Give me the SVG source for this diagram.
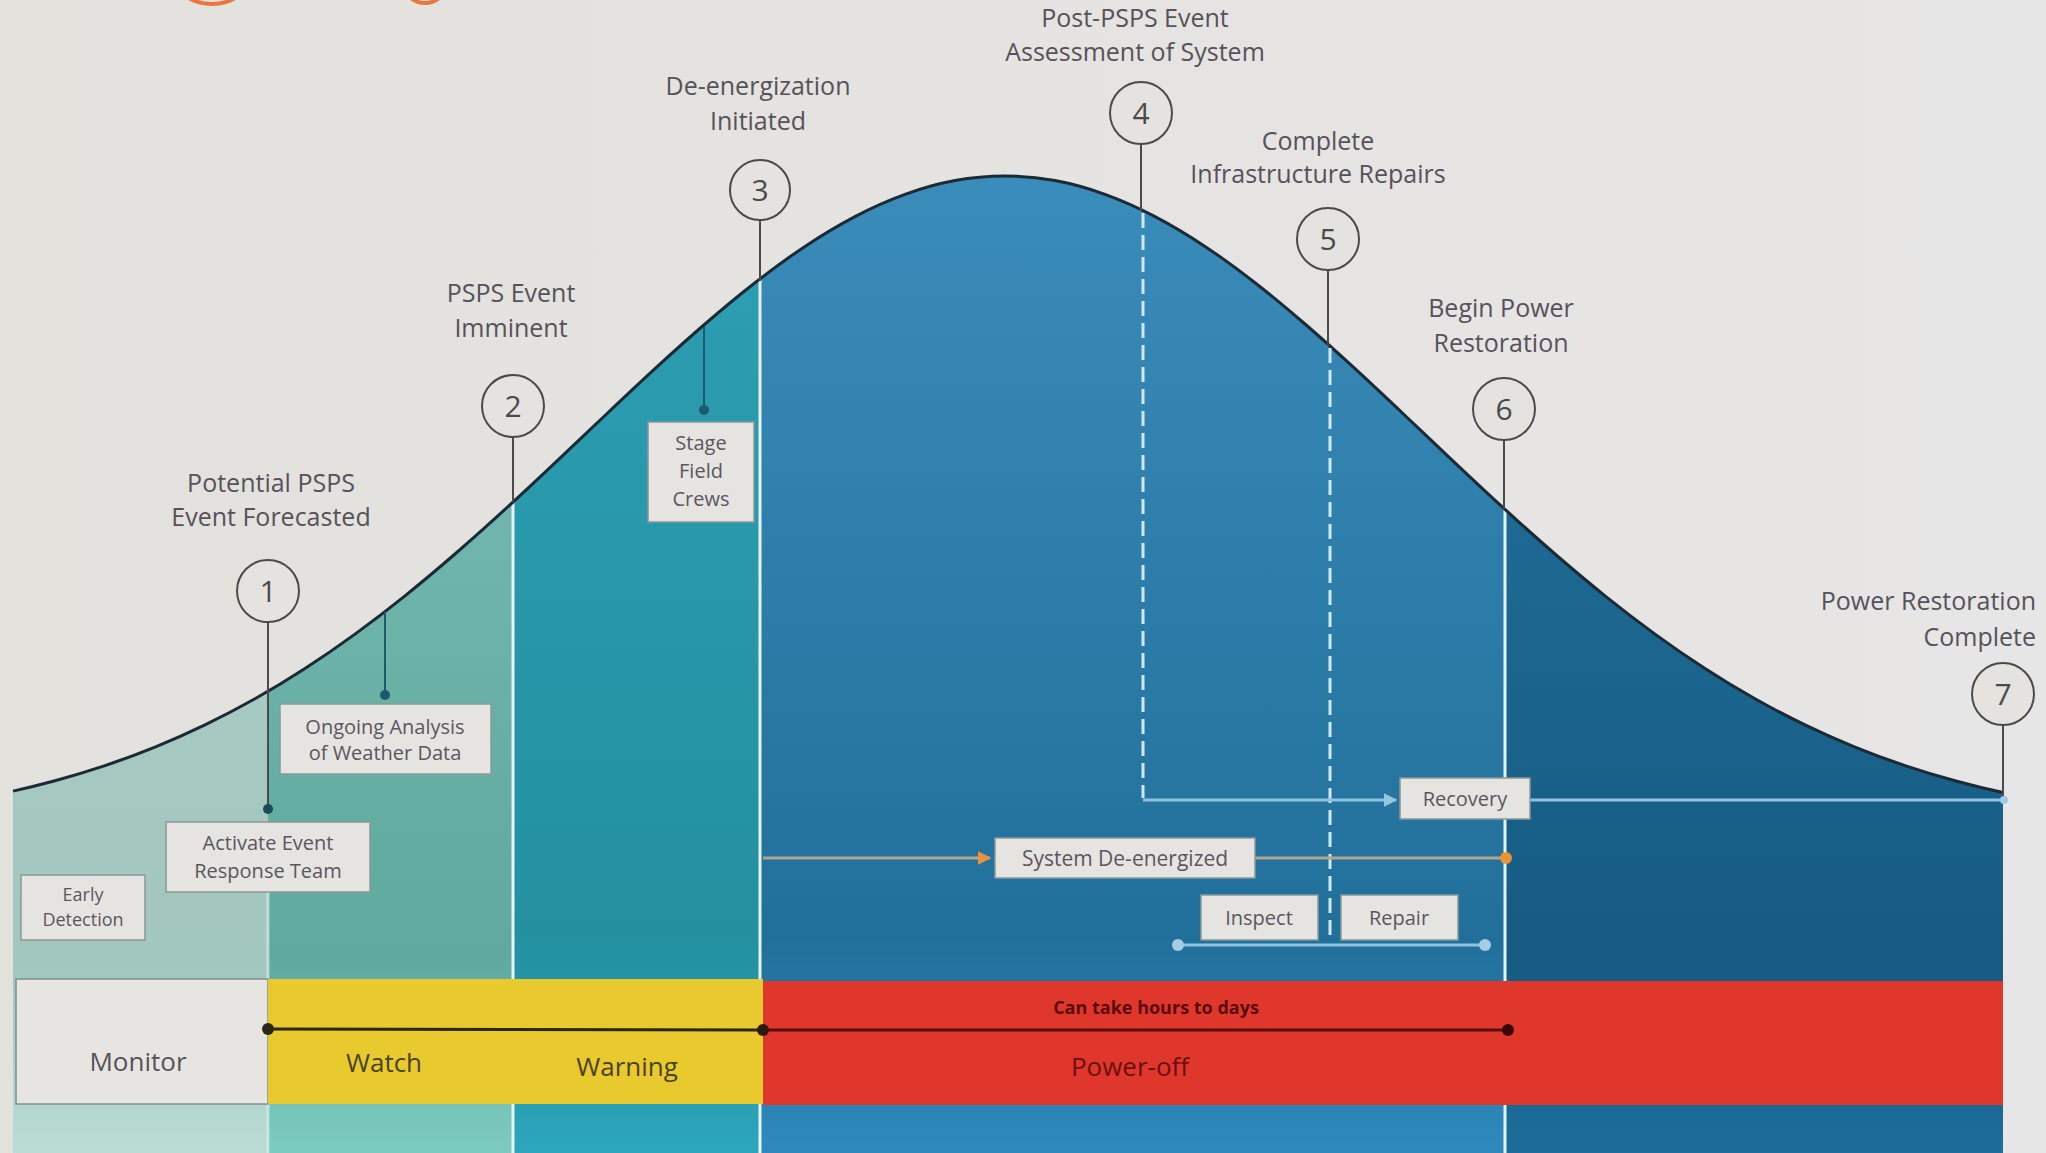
<svg xmlns="http://www.w3.org/2000/svg" width="2046" height="1153" viewBox="0 0 2046 1153">
<defs>
<linearGradient id="bg" x1="0" y1="0" x2="1" y2="0">
<stop offset="0" stop-color="#e2e1dc"/><stop offset="1" stop-color="#e7e6e6"/>
</linearGradient>
<linearGradient id="g1" gradientUnits="userSpaceOnUse" x1="0" y1="690" x2="0" y2="1153">
<stop offset="0" stop-color="#a6c9c1"/><stop offset="0.6" stop-color="#a2c7bd"/><stop offset="1" stop-color="#b9dcd4"/>
</linearGradient>
<linearGradient id="g2" gradientUnits="userSpaceOnUse" x1="0" y1="500" x2="0" y2="1153">
<stop offset="0" stop-color="#70b6ac"/><stop offset="0.7" stop-color="#5fa99f"/><stop offset="1" stop-color="#7ccbc1"/>
</linearGradient>
<linearGradient id="g3" gradientUnits="userSpaceOnUse" x1="0" y1="280" x2="0" y2="1153">
<stop offset="0" stop-color="#2c9db2"/><stop offset="0.75" stop-color="#22909f"/><stop offset="1" stop-color="#2ba6bb"/>
</linearGradient>
<linearGradient id="g4" gradientUnits="userSpaceOnUse" x1="0" y1="176" x2="0" y2="1153">
<stop offset="0" stop-color="#3a8cba"/><stop offset="0.78" stop-color="#21709b"/><stop offset="1" stop-color="#2e8abd"/>
</linearGradient>
<linearGradient id="g5" gradientUnits="userSpaceOnUse" x1="0" y1="500" x2="0" y2="1153">
<stop offset="0" stop-color="#1e6a94"/><stop offset="0.7" stop-color="#165b82"/><stop offset="1" stop-color="#1c6d9b"/>
</linearGradient>
<path id="bell" d="M13,791.1 C27,787.95 41,784.5 55,780.7 C71.67,776.17 88.33,771.18 105,765.6 C121.67,760.02 138.33,753.86 155,747.1 C171.67,740.34 188.33,732.95 205,724.9 C221.67,716.85 238.33,708.2 255,698.8 C271.67,689.4 288.33,679.29 305,668.5 C321.67,657.71 338.33,646.24 355,634.1 C371.67,621.96 388.33,609.18 405,595.8 C421.67,582.42 438.33,568.45 455,554 C471.67,539.55 488.33,524.65 505,509.4 C521.67,494.15 538.33,478.51 555,462.8 C571.67,447.09 588.33,431.26 605,415.5 C621.67,399.74 638.33,384.04 655,368.7 C671.67,353.36 688.33,338.42 705,324 C721.67,309.58 738.33,295.7 755,282.7 C771.67,269.7 788.33,257.49 805,246.4 C821.67,235.31 838.33,225.34 855,216.6 C871.67,207.86 888.33,200.44 905,194.4 C921.67,188.36 938.33,183.68 955,180.6 C971.67,177.52 988.33,176 1005,176 C1021.67,176 1038.33,177.52 1055,180.6 C1071.67,183.68 1088.33,188.36 1105,194.4 C1121.67,200.44 1138.33,207.86 1155,216.6 C1171.67,225.34 1188.33,235.31 1205,246.4 C1221.67,257.49 1238.33,269.7 1255,282.7 C1271.67,295.7 1288.33,309.58 1305,324 C1321.67,338.42 1338.33,353.36 1355,368.7 C1371.67,384.04 1388.33,399.74 1405,415.5 C1421.67,431.26 1438.33,447.09 1455,462.8 C1471.67,478.51 1488.33,494.15 1505,509.4 C1521.67,524.65 1538.33,539.55 1555,554 C1571.67,568.45 1588.33,582.42 1605,595.8 C1621.67,609.18 1638.33,621.96 1655,634.1 C1671.67,646.24 1688.33,657.71 1705,668.5 C1721.67,679.29 1738.33,689.4 1755,698.8 C1771.67,708.2 1788.33,716.85 1805,724.9 C1821.67,732.95 1838.33,740.34 1855,747.1 C1871.67,753.86 1888.33,760.02 1905,765.6 C1921.67,771.18 1938.33,776.17 1955,780.7 C1971,785.05 1987,789 2003,792.5"/>
<clipPath id="under">
<path d="M13,791.1 C27,787.95 41,784.5 55,780.7 C71.67,776.17 88.33,771.18 105,765.6 C121.67,760.02 138.33,753.86 155,747.1 C171.67,740.34 188.33,732.95 205,724.9 C221.67,716.85 238.33,708.2 255,698.8 C271.67,689.4 288.33,679.29 305,668.5 C321.67,657.71 338.33,646.24 355,634.1 C371.67,621.96 388.33,609.18 405,595.8 C421.67,582.42 438.33,568.45 455,554 C471.67,539.55 488.33,524.65 505,509.4 C521.67,494.15 538.33,478.51 555,462.8 C571.67,447.09 588.33,431.26 605,415.5 C621.67,399.74 638.33,384.04 655,368.7 C671.67,353.36 688.33,338.42 705,324 C721.67,309.58 738.33,295.7 755,282.7 C771.67,269.7 788.33,257.49 805,246.4 C821.67,235.31 838.33,225.34 855,216.6 C871.67,207.86 888.33,200.44 905,194.4 C921.67,188.36 938.33,183.68 955,180.6 C971.67,177.52 988.33,176 1005,176 C1021.67,176 1038.33,177.52 1055,180.6 C1071.67,183.68 1088.33,188.36 1105,194.4 C1121.67,200.44 1138.33,207.86 1155,216.6 C1171.67,225.34 1188.33,235.31 1205,246.4 C1221.67,257.49 1238.33,269.7 1255,282.7 C1271.67,295.7 1288.33,309.58 1305,324 C1321.67,338.42 1338.33,353.36 1355,368.7 C1371.67,384.04 1388.33,399.74 1405,415.5 C1421.67,431.26 1438.33,447.09 1455,462.8 C1471.67,478.51 1488.33,494.15 1505,509.4 C1521.67,524.65 1538.33,539.55 1555,554 C1571.67,568.45 1588.33,582.42 1605,595.8 C1621.67,609.18 1638.33,621.96 1655,634.1 C1671.67,646.24 1688.33,657.71 1705,668.5 C1721.67,679.29 1738.33,689.4 1755,698.8 C1771.67,708.2 1788.33,716.85 1805,724.9 C1821.67,732.95 1838.33,740.34 1855,747.1 C1871.67,753.86 1888.33,760.02 1905,765.6 C1921.67,771.18 1938.33,776.17 1955,780.7 C1971,785.05 1987,789 2003,792.5 L2003,1153 L13,1153 Z"/>
</clipPath>
<marker id="arrOr" viewBox="0 0 10 10" refX="9" refY="5" markerWidth="4.5" markerHeight="4.5" markerUnits="strokeWidth" orient="auto">
<path d="M0,0 L10,5 L0,10 z" fill="#ea9238"/>
</marker>
<marker id="arrBl" viewBox="0 0 10 10" refX="9" refY="5" markerWidth="4.5" markerHeight="4.5" markerUnits="strokeWidth" orient="auto">
<path d="M0,0 L10,5 L0,10 z" fill="#93c4e0"/>
</marker>
<style>
.lbl{font-family:"Open Sans","Liberation Sans",sans-serif;font-size:25px;fill:#56525a;text-anchor:middle}
.lblr{font-family:"Open Sans","Liberation Sans",sans-serif;font-size:25px;fill:#56525a;text-anchor:end}
.num{font-family:"Open Sans","Liberation Sans",sans-serif;font-size:30px;fill:#4a4a4a;text-anchor:middle}
.ring{fill:#e4e3df;stroke:#4a4a4a;stroke-width:2}
.stem{stroke:#4a4a4a;stroke-width:2;fill:none}
.box{fill:#e6e4e0;stroke:#8a9898;stroke-width:1.5}
.btx{font-family:"Open Sans","Liberation Sans",sans-serif;font-size:20px;fill:#5a5660;text-anchor:middle}
.sm{font-size:18px}
.phase{font-family:"Open Sans","Liberation Sans",sans-serif;font-size:26px;text-anchor:middle}
.div{stroke:#e4f4f4;stroke-width:3}
.dash{stroke:#cfe8f5;stroke-width:3;stroke-dasharray:15 7;fill:none}
.blue{stroke:#8fc2df;stroke-width:3;fill:none}
.tan{stroke:#b3a48e;stroke-width:3;fill:none}
</style>
</defs>

<rect width="2046" height="1153" fill="url(#bg)"/>
<g id="logo-fragment" fill="none" stroke="#e8773e" stroke-width="4">
<ellipse cx="212" cy="-22" rx="36" ry="26"/>
<ellipse cx="425" cy="-23" rx="24" ry="26"/>
</g>

<g id="regions" clip-path="url(#under)">
<rect x="13" y="150" width="255" height="1003" fill="url(#g1)"/>
<rect x="268" y="150" width="245" height="1003" fill="url(#g2)"/>
<rect x="513" y="150" width="246" height="1003" fill="url(#g3)"/>
<rect x="759" y="150" width="746" height="1003" fill="url(#g4)"/>
<rect x="1505" y="150" width="498" height="1003" fill="url(#g5)"/>
<line class="div" x1="268" y1="892" x2="268" y2="1153" stroke-opacity="0.6"/>
<line class="div" x1="513" y1="502" x2="513" y2="1153"/>
<line class="div" x1="760" y1="280" x2="760" y2="1153"/>
<line class="div" x1="1505" y1="509" x2="1505" y2="1153"/>
</g>

<use id="curve" href="#bell" fill="none" stroke="#1c2a36" stroke-width="3" stroke-linejoin="round"/>

<g id="connectors">
<line class="stem" x1="268" y1="622" x2="268" y2="809"/>
<circle cx="268" cy="809" r="5" fill="#1d4a5a"/>
<line class="stem" x1="513" y1="437" x2="513" y2="502"/>
<line class="stem" x1="760" y1="220" x2="760" y2="281"/>
<line class="stem" x1="1141" y1="144" x2="1141" y2="211"/>
<line class="stem" x1="1328" y1="269" x2="1328" y2="346"/>
<line class="stem" x1="1504" y1="440" x2="1504" y2="509"/>
<line class="stem" x1="2003" y1="725" x2="2003" y2="798"/>
<line x1="385" y1="612" x2="385" y2="695" stroke="#1d5a6a" stroke-width="2"/>
<circle cx="385" cy="695" r="5" fill="#1d5a6a"/>
<line x1="704" y1="327" x2="704" y2="410" stroke="#1d5a6a" stroke-width="2"/>
<circle cx="704" cy="410" r="5" fill="#1d5a6a"/>
<path class="dash" d="M1143,213 L1143,798"/>
<path class="dash" d="M1330,348 L1330,942"/>
<path class="blue" d="M1143,800 L1396,800" marker-end="url(#arrBl)"/>
<path class="blue" d="M1530,800 L2003,800"/>
<circle cx="2004" cy="800" r="4" fill="#9ccbe5"/>
<path class="tan" d="M763,858 L990,858" marker-end="url(#arrOr)"/>
<path class="tan" d="M1255,858 L1505,858"/>
<circle cx="1506" cy="858" r="6" fill="#ea9238"/>
<path class="blue" d="M1177,945 L1485,945" stroke="#a5cce6"/>
<circle cx="1178" cy="945" r="6" fill="#a5cce6"/>
<circle cx="1485" cy="945" r="6" fill="#a5cce6"/>
</g>

<g id="m1"><circle class="ring" cx="268" cy="591" r="31"/><text class="num" x="268" y="602">1</text>
<text class="lbl" x="271" y="492">Potential PSPS</text><text class="lbl" x="271" y="526">Event Forecasted</text></g>
<g id="m2"><circle class="ring" cx="513" cy="406" r="31"/><text class="num" x="513" y="417">2</text>
<text class="lbl" x="511" y="302">PSPS Event</text><text class="lbl" x="511" y="337">Imminent</text></g>
<g id="m3"><circle class="ring" cx="760" cy="190" r="30"/><text class="num" x="760" y="201">3</text>
<text class="lbl" x="758" y="95">De-energization</text><text class="lbl" x="758" y="130">Initiated</text></g>
<g id="m4"><circle class="ring" cx="1141" cy="113" r="31"/><text class="num" x="1141" y="124">4</text>
<text class="lbl" x="1135" y="27">Post-PSPS Event</text><text class="lbl" x="1135" y="61">Assessment of System</text></g>
<g id="m5"><circle class="ring" cx="1328" cy="239" r="31"/><text class="num" x="1328" y="250">5</text>
<text class="lbl" x="1318" y="150">Complete</text><text class="lbl" x="1318" y="183">Infrastructure Repairs</text></g>
<g id="m6"><circle class="ring" cx="1504" cy="409" r="31"/><text class="num" x="1504" y="420">6</text>
<text class="lbl" x="1501" y="317">Begin Power</text><text class="lbl" x="1501" y="352">Restoration</text></g>
<g id="m7"><circle class="ring" cx="2003" cy="694" r="31"/><text class="num" x="2003" y="705">7</text>
<text class="lblr" x="2036" y="610">Power Restoration</text><text class="lblr" x="2036" y="646">Complete</text></g>

<g id="early-detection"><rect class="box" x="21" y="875" width="124" height="65"/>
<text class="btx sm" x="83" y="901">Early</text><text class="btx sm" x="83" y="926">Detection</text></g>
<g id="activate-team"><rect class="box" x="166" y="822" width="204" height="70"/>
<text class="btx" x="268" y="850">Activate Event</text><text class="btx" x="268" y="878">Response Team</text></g>
<g id="ongoing-analysis"><rect class="box" x="280" y="704" width="211" height="70"/>
<text class="btx" x="385" y="734">Ongoing Analysis</text><text class="btx" x="385" y="760">of Weather Data</text></g>
<g id="stage-crews"><rect class="box" x="648" y="422" width="106" height="100"/>
<text class="btx" x="701" y="450">Stage</text><text class="btx" x="701" y="478">Field</text><text class="btx" x="701" y="506">Crews</text></g>
<g id="system-deenergized"><rect class="box" x="995" y="838" width="260" height="40"/>
<text class="btx" x="1125" y="866" style="font-size:21px">System De-energized</text></g>
<g id="inspect"><rect class="box" x="1201" y="895" width="117" height="45"/>
<text class="btx" x="1259" y="925">Inspect</text></g>
<g id="repair"><rect class="box" x="1341" y="895" width="117" height="45"/>
<text class="btx" x="1399" y="925">Repair</text></g>
<g id="recovery"><rect class="box" x="1400" y="778" width="130" height="41"/>
<text class="btx" x="1465" y="806">Recovery</text></g>

<g id="phase-bar">
<rect x="16" y="979" width="252" height="125" fill="#e7e5e1" stroke="#7f8f8f" stroke-width="1.5"/>
<rect x="268" y="979" width="495" height="125" fill="#e8c92e"/>
<rect x="763" y="981" width="1240" height="124" fill="#e0372c"/>
<line x1="268" y1="1029" x2="763" y2="1030" stroke="#2a2618" stroke-width="3"/>
<line x1="763" y1="1030" x2="1508" y2="1030" stroke="#5a0d0d" stroke-width="3"/>
<circle cx="268" cy="1029" r="6" fill="#2a2618"/>
<circle cx="763" cy="1030" r="6" fill="#2a1a10"/>
<circle cx="1508" cy="1030" r="6" fill="#3a0808"/>
<text class="phase" x="138" y="1071" fill="#56525a">Monitor</text>
<text class="phase" x="384" y="1072" fill="#4a4220">Watch</text>
<text class="phase" x="627" y="1076" fill="#4a4220">Warning</text>
<text class="phase" x="1130" y="1076" fill="#6a1010">Power-off</text>
<text x="1156" y="1014" font-family="Open Sans, Liberation Sans, sans-serif" font-size="18" font-weight="bold" fill="#5a0a0a" text-anchor="middle">Can take hours to days</text>
</g>
</svg>
